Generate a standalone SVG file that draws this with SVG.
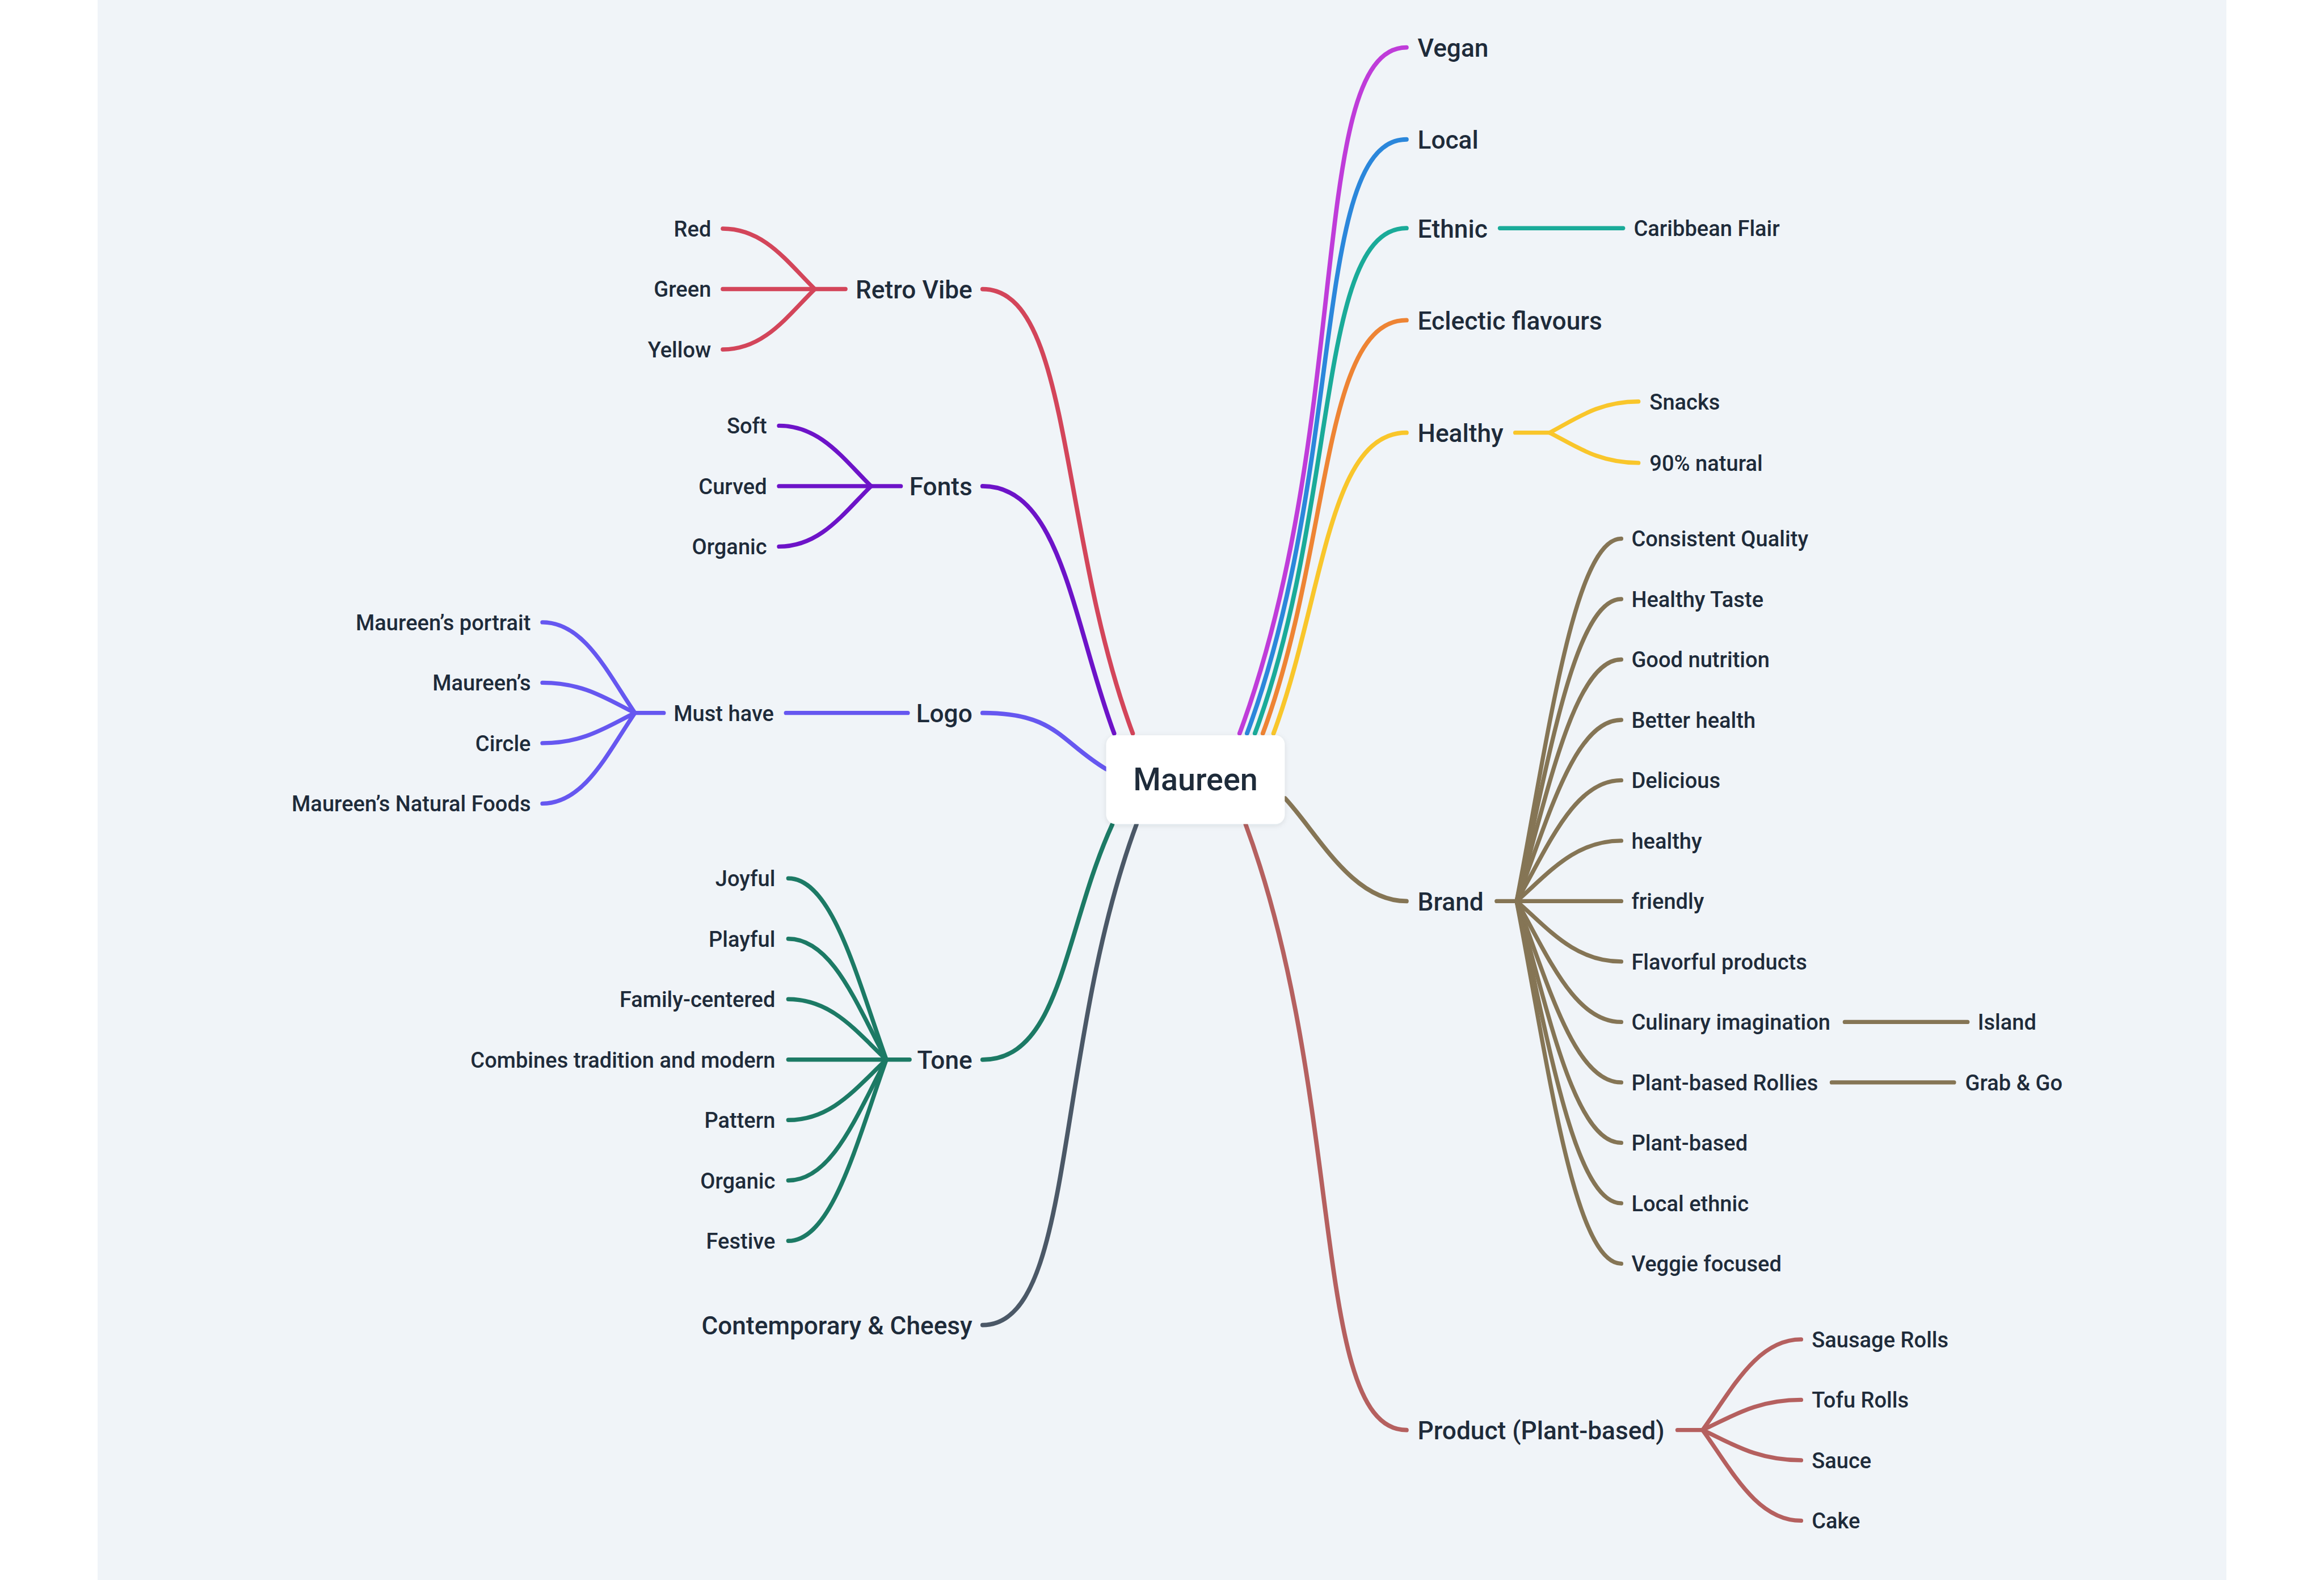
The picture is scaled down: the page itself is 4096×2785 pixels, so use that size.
<svg xmlns="http://www.w3.org/2000/svg" width="4096" height="2785" viewBox="0 0 4096 2785">
<defs>
<style>
.t{font-family:Roboto,"Liberation Sans",sans-serif;font-weight:500;fill:#1e2b3a}
.m{font-size:54px}
.l{font-size:46.5px}
.c{font-size:68px}
.e{text-anchor:end}
.k{fill:none;stroke-width:9;stroke-linecap:round;stroke-linejoin:round}
.k0{stroke-width:9.5}
.vegan{stroke:#bf3cd9}.local{stroke:#2b87db}.ethnic{stroke:#1aab99}.eclectic{stroke:#ee8434}.healthy{stroke:#f9c62b}
.brand{stroke:#857555}.product{stroke:#b5605f}.cont{stroke:#4b5867}.tone{stroke:#1c7a65}.logo{stroke:#6657f0}
.fonts{stroke:#6d13c8}.retro{stroke:#d3455a}
</style>
<filter id="sh" x="-20%" y="-20%" width="140%" height="140%">
<feDropShadow dx="0" dy="3" stdDeviation="6" flood-color="#1e2b3a" flood-opacity="0.10"/>
</filter>
</defs>
<rect width="4096" height="2785" fill="#ffffff"/>
<g transform="scale(0.8192)">
<rect x="210" y="0" width="4580" height="3400" fill="#f0f4f8"/>

<g id="connectors">
<path class="k k0 vegan" d="M2667,1578 C2913,914 2812,102 3026,102"/>
<path class="k k0 local" d="M2683,1578 C2896,1003 2822,300 3026,300"/>
<path class="k k0 ethnic" d="M2700,1578 C2881,1089 2832,491 3026,491"/>
<path class="k k0 eclectic" d="M2717,1578 C2865,1178 2842,689 3026,689"/>
<path class="k k0 healthy" d="M2740,1578 C2848,1287 2856,931 3026,931"/>
<path class="k k0 brand" d="M2765,1718 C2835,1793 2908,1939 3026,1939"/>
<path class="k k0 product" d="M2680,1774 C2897,2360 2819,3077 3026,3077"/>
<path class="k k0 retro" d="M2437,1578 C2277,1147 2307,622 2114,622"/>
<path class="k k0 fonts" d="M2397,1578 C2308,1339 2283,1046 2114,1046"/>
<path class="k k0 logo" d="M2380,1655 C2280,1595 2272,1534 2114,1534"/>
<path class="k k0 tone" d="M2393,1774 C2289,2002 2283,2280 2114,2280"/>
<path class="k k0 cont" d="M2445,1774 C2266,2258 2315,2851 2114,2851"/>

<path class="k ethnic" d="M3227,491 H3492"/>

<path class="k healthy" d="M3260,931 H3334"/>
<path class="k healthy" d="M3334,931 C3391.3,900.85 3439,864 3525,864"/>
<path class="k healthy" d="M3334,931 C3391.3,960.25 3439,996 3525,996"/>

<path class="k brand" d="M3220,1939 H3263"/>
<path class="k brand" d="M3263,1939 C3330.5,1588 3386.75,1159 3488,1159"/>
<path class="k brand" d="M3263,1939 C3330.5,1646.5 3386.75,1289 3488,1289"/>
<path class="k brand" d="M3263,1939 C3330.5,1705 3386.75,1419 3488,1419"/>
<path class="k brand" d="M3263,1939 C3330.5,1763.5 3386.75,1549 3488,1549"/>
<path class="k brand" d="M3263,1939 C3330.5,1822 3386.75,1679 3488,1679"/>
<path class="k brand" d="M3263,1939 C3330.5,1880.5 3386.75,1809 3488,1809"/>
<path class="k brand" d="M3263,1939 H3488"/>
<path class="k brand" d="M3263,1939 C3330.5,1997.5 3386.75,2069 3488,2069"/>
<path class="k brand" d="M3263,1939 C3330.5,2056 3386.75,2199 3488,2199"/>
<path class="k brand" d="M3263,1939 C3330.5,2114.5 3386.75,2329 3488,2329"/>
<path class="k brand" d="M3263,1939 C3330.5,2173 3386.75,2459 3488,2459"/>
<path class="k brand" d="M3263,1939 C3330.5,2231.5 3386.75,2589 3488,2589"/>
<path class="k brand" d="M3263,1939 C3330.5,2290 3386.75,2719 3488,2719"/>
<path class="k brand" d="M3969,2199 H4233"/>
<path class="k brand" d="M3941,2329 H4204"/>

<path class="k product" d="M3609,3077 H3663"/>
<path class="k product" d="M3663,3077 C3726.6,2989.25 3779.6,2882 3875,2882"/>
<path class="k product" d="M3663,3077 C3726.6,3047.75 3779.6,3012 3875,3012"/>
<path class="k product" d="M3663,3077 C3726.6,3106.25 3779.6,3142 3875,3142"/>
<path class="k product" d="M3663,3077 C3726.6,3164.75 3779.6,3272 3875,3272"/>

<path class="k retro" d="M1819,622 H1753"/>
<path class="k retro" d="M1753,622 C1693.6,563.5 1644.1,492 1555,492"/>
<path class="k retro" d="M1753,622 H1555"/>
<path class="k retro" d="M1753,622 C1693.6,680.5 1644.1,752 1555,752"/>

<path class="k fonts" d="M1938,1046 H1874"/>
<path class="k fonts" d="M1874,1046 C1814.6,987.5 1765.1,916 1676,916"/>
<path class="k fonts" d="M1874,1046 H1676"/>
<path class="k fonts" d="M1874,1046 C1814.6,1104.5 1765.1,1176 1676,1176"/>

<path class="k logo" d="M1953,1534 H1691"/>
<path class="k logo" d="M1428,1534 H1366"/>
<path class="k logo" d="M1366,1534 C1306.3,1446.25 1256.6,1339 1167,1339"/>
<path class="k logo" d="M1366,1534 C1306.3,1504.75 1256.6,1469 1167,1469"/>
<path class="k logo" d="M1366,1534 C1306.3,1563.25 1256.6,1599 1167,1599"/>
<path class="k logo" d="M1366,1534 C1306.3,1621.75 1256.6,1729 1167,1729"/>

<path class="k tone" d="M1957,2280 H1907"/>
<path class="k tone" d="M1907,2280 C1843.7,2104.5 1791,1890 1696,1890"/>
<path class="k tone" d="M1907,2280 C1843.7,2163 1791,2020 1696,2020"/>
<path class="k tone" d="M1907,2280 C1843.7,2221.5 1791,2150 1696,2150"/>
<path class="k tone" d="M1907,2280 H1696"/>
<path class="k tone" d="M1907,2280 C1843.7,2338.5 1791,2410 1696,2410"/>
<path class="k tone" d="M1907,2280 C1843.7,2397 1791,2540 1696,2540"/>
<path class="k tone" d="M1907,2280 C1843.7,2455.5 1791,2670 1696,2670"/>
</g>

<g id="node-maureen">
<rect x="2380" y="1582" width="384" height="191" rx="20" fill="#ffffff" filter="url(#sh)"/>
<text class="t c" x="2572" y="1701" text-anchor="middle">Maureen</text>
</g>

<g id="node-vegan"><text class="t m" x="3050" y="122">Vegan</text></g>
<g id="node-local"><text class="t m" x="3050" y="320">Local</text></g>
<g id="node-ethnic"><text class="t m" x="3050" y="511">Ethnic</text></g>
<g id="node-caribbean"><text class="t l" x="3515" y="508">Caribbean Flair</text></g>
<g id="node-eclectic"><text class="t m" x="3050" y="709">Eclectic flavours</text></g>
<g id="node-healthy"><text class="t m" x="3050" y="951">Healthy</text></g>
<g id="node-snacks"><text class="t l" x="3549" y="881">Snacks</text></g>
<g id="node-natural"><text class="t l" x="3549" y="1013">90% natural</text></g>

<g id="node-brand"><text class="t m" x="3050" y="1959">Brand</text></g>
<g id="node-b1"><text class="t l" x="3510" y="1176">Consistent Quality</text></g>
<g id="node-b2"><text class="t l" x="3510" y="1306">Healthy Taste</text></g>
<g id="node-b3"><text class="t l" x="3510" y="1436">Good nutrition</text></g>
<g id="node-b4"><text class="t l" x="3510" y="1566">Better health</text></g>
<g id="node-b5"><text class="t l" x="3510" y="1696">Delicious</text></g>
<g id="node-b6"><text class="t l" x="3510" y="1826">healthy</text></g>
<g id="node-b7"><text class="t l" x="3510" y="1956">friendly</text></g>
<g id="node-b8"><text class="t l" x="3510" y="2086">Flavorful products</text></g>
<g id="node-b9"><text class="t l" x="3510" y="2216">Culinary imagination</text></g>
<g id="node-island"><text class="t l" x="4255" y="2216">Island</text></g>
<g id="node-b10"><text class="t l" x="3510" y="2346">Plant-based Rollies</text></g>
<g id="node-grab"><text class="t l" x="4228" y="2346">Grab &amp; Go</text></g>
<g id="node-b11"><text class="t l" x="3510" y="2476">Plant-based</text></g>
<g id="node-b12"><text class="t l" x="3510" y="2606">Local ethnic</text></g>
<g id="node-b13"><text class="t l" x="3510" y="2736">Veggie focused</text></g>

<g id="node-product"><text class="t m" x="3050" y="3097">Product (Plant-based)</text></g>
<g id="node-p1"><text class="t l" x="3898" y="2899">Sausage Rolls</text></g>
<g id="node-p2"><text class="t l" x="3898" y="3029">Tofu Rolls</text></g>
<g id="node-p3"><text class="t l" x="3898" y="3159">Sauce</text></g>
<g id="node-p4"><text class="t l" x="3898" y="3289">Cake</text></g>

<g id="node-retro"><text class="t m e" x="2092" y="642">Retro Vibe</text></g>
<g id="node-red"><text class="t l e" x="1530" y="509">Red</text></g>
<g id="node-green"><text class="t l e" x="1530" y="639">Green</text></g>
<g id="node-yellow"><text class="t l e" x="1530" y="769">Yellow</text></g>

<g id="node-fonts"><text class="t m e" x="2092" y="1066">Fonts</text></g>
<g id="node-soft"><text class="t l e" x="1650" y="933">Soft</text></g>
<g id="node-curved"><text class="t l e" x="1650" y="1063">Curved</text></g>
<g id="node-organic1"><text class="t l e" x="1650" y="1193">Organic</text></g>

<g id="node-logo"><text class="t m e" x="2092" y="1554">Logo</text></g>
<g id="node-musthave"><text class="t l e" x="1665" y="1551">Must have</text></g>
<g id="node-portrait"><text class="t l e" x="1142" y="1356">Maureen’s portrait</text></g>
<g id="node-maureens"><text class="t l e" x="1142" y="1486">Maureen’s</text></g>
<g id="node-circle"><text class="t l e" x="1142" y="1616">Circle</text></g>
<g id="node-naturalfoods"><text class="t l e" x="1142" y="1746">Maureen’s Natural Foods</text></g>

<g id="node-tone"><text class="t m e" x="2092" y="2300">Tone</text></g>
<g id="node-joyful"><text class="t l e" x="1668" y="1907">Joyful</text></g>
<g id="node-playful"><text class="t l e" x="1668" y="2037">Playful</text></g>
<g id="node-family"><text class="t l e" x="1668" y="2167">Family-centered</text></g>
<g id="node-combines"><text class="t l e" x="1668" y="2297">Combines tradition and modern</text></g>
<g id="node-pattern"><text class="t l e" x="1668" y="2427">Pattern</text></g>
<g id="node-organic2"><text class="t l e" x="1668" y="2557">Organic</text></g>
<g id="node-festive"><text class="t l e" x="1668" y="2687">Festive</text></g>

<g id="node-contemporary"><text class="t m e" x="2092" y="2871">Contemporary &amp; Cheesy</text></g>
</g>
</svg>
